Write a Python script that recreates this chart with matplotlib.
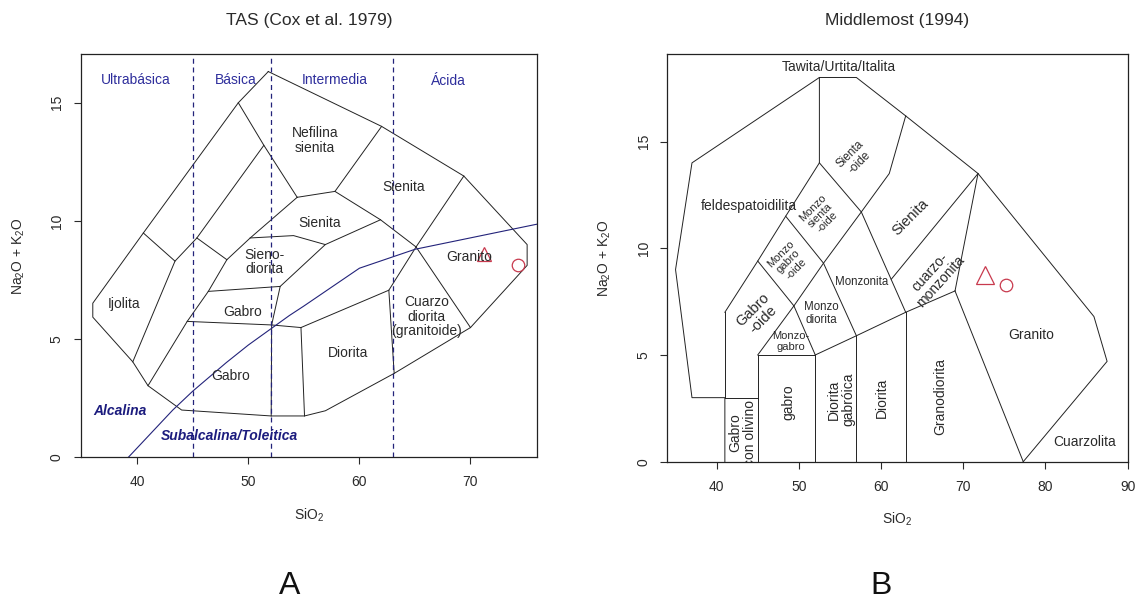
import matplotlib
matplotlib.use("Agg")
import matplotlib.pyplot as plt

plt.rcParams['font.family'] = ['Liberation Sans', 'DejaVu Sans']
plt.rcParams['mathtext.fontset'] = 'custom'
plt.rcParams['mathtext.rm'] = 'Liberation Sans'
plt.rcParams['mathtext.it'] = 'Liberation Sans:italic'

# ---------------- Panel A : TAS (Cox et al. 1979) ----------------
coxA_outer_x = [51.8, 49.1, 40.55, 36.0, 36.0, 39.6, 40.97, 44.0, 52.06, 55.06,
                56.94, 63.13, 70.0, 75.1, 75.1, 69.4, 62.0, 51.8]
coxA_outer_y = [16.32, 15.0, 9.49, 6.52, 5.93, 4.04, 3.03, 2.0, 1.75, 1.75,
                1.97, 3.55, 5.49, 8.12, 9.0, 11.9, 14.0, 16.32]
coxA_lines = [
    ([49.1, 51.4, 54.4], [15.0, 13.2, 11.0]),
    ([54.4, 57.8, 62.0], [11.0, 11.25, 14.0]),
    ([57.8, 61.9, 65.1, 69.4], [11.25, 10.05, 8.9, 11.9]),
    ([65.1, 70.0], [8.9, 5.49]),
    ([65.1, 62.65, 63.13], [8.9, 7.07, 3.55]),
    ([62.65, 54.74, 55.06], [7.07, 5.49, 1.75]),
    ([44.5, 52.1, 54.74], [5.75, 5.6, 5.49]),
    ([52.1, 52.06], [5.6, 1.75]),
    ([46.4, 52.87, 56.93], [7.02, 7.23, 9.0]),
    ([52.87, 52.1], [7.23, 5.6]),
    ([50.17, 54.07, 56.93, 61.9], [9.28, 9.38, 9.0, 10.05]),
    ([54.4, 50.17, 48.07, 46.4, 44.5, 40.97], [11.0, 9.28, 8.36, 7.02, 5.75, 3.03]),
    ([51.4, 45.37, 43.4], [13.2, 9.28, 8.3]),
    ([40.55, 43.4, 39.6], [9.49, 8.3, 4.04]),
    ([45.37, 48.07], [9.28, 8.36]),
]
# Irvine & Baragar alkaline / subalkaline divide
ib_x = [39.2, 40, 43.2, 45, 48, 50, 53.7, 55, 60, 65, 77.4]
ib_y = [0, 0.4, 2, 2.8, 4, 4.75, 6, 6.4, 8, 8.8, 10]
silica_div = [45, 52, 63]
zone_names = ['Ultrabásica', 'Básica', 'Intermedia', 'Ácida']
zone_x = [39.9, 48.9, 57.8, 68.0]
zone_y = [15.96, 15.96, 15.96, 15.9]
coxA_names = ['Nefilina\nsienita', 'Sienita', 'Sienita', 'Sieno-\ndiorita', 'Gabro',
              'Gabro', 'Ijolita', 'Diorita', 'Cuarzo\ndiorita\n(granitoide)', 'Granito']
coxA_lx = [56.0, 63.95, 56.45, 51.45, 49.5, 48.45, 38.8, 58.95, 66.05, 69.85]
coxA_ly = [13.41, 11.43, 9.9, 8.27, 6.15, 3.44, 6.48, 4.42, 5.94, 8.46]
series_names = ['Alcalina', 'Subalcalina/Toleitica']
series_x = [38.45, 48.3]
series_y = [1.96, 0.92]
A_tri = (71.2, 8.6)
A_circ = (74.25, 8.15)

# ---------------- Panel B : Middlemost (1994) ----------------
midB_outer_x = [41, 41, 37, 35, 37, 52.5, 57, 63, 71.8, 85.9, 87.5, 77.3]
midB_outer_y = [0, 3, 3, 9, 14, 18, 18, 16.2, 13.5, 6.8, 4.7, 0]
midB_lines = [
    ([41, 41], [3, 7]),
    ([41, 45], [3, 3]),
    ([45, 45], [0, 5]),
    ([45, 52], [5, 5]),
    ([52, 52], [0, 5]),
    ([52, 57, 63, 69], [5, 5.9, 7, 8]),
    ([57, 57], [0, 5.9]),
    ([63, 63], [0, 7]),
    ([69, 77.3], [8, 0]),
    ([69, 71.8], [8, 13.5]),
    ([41, 45, 48.4, 52.5, 52.5], [7, 9.4, 11.5, 14, 18]),
    ([45, 49.4, 53, 57.6, 61, 63], [5, 7.3, 9.3, 11.7, 13.5, 16.2]),
    ([49.4, 52], [7.3, 5]),
    ([45, 49.4], [9.4, 7.3]),
    ([48.4, 53, 57], [11.5, 9.3, 5.9]),
    ([52.5, 57.6, 63], [14, 11.7, 7]),
    ([61.25, 71.8], [8.55, 13.5]),
]
midB_names = ['Tawita/Urtita/Italita', 'feldespatoidilita', 'Sienta\n-oide',
              'Monzo\nsienta\n-oide', 'Sienita', 'Monzo\ngabro\n-oide',
              'cuarzo-\nmonzonita', 'Monzonita', 'Gabro\n-oide', 'Monzo\ndiorita',
              'Monzo-\ngabro', 'gabro', 'Diorita\ngabróica', 'Diorita', 'Granodiorita',
              'Gabro\ncon olivino', 'Granito', 'Cuarzolita']
midB_lx = [54.87, 43.89, 56.8, 52.58, 63.62, 48.73, 66.58, 57.66, 45.08, 52.79,
           48.99, 48.77, 55.1, 60.06, 67.2, 43.2, 78.3, 84.8]
midB_ly = [18.5, 11.96, 14.2, 11.56, 11.45, 9.38, 8.67, 8.44, 6.88, 6.95,
           5.63, 2.81, 2.92, 2.97, 3.05, 1.36, 5.94, 0.94]
midB_rot = [0, 0, 45, 45, 45, 45, 48, 0, 45, 0, 0, 90, 90, 90, 90, 90, 0, 0]
midB_size = [10, 10, 8.5, 8, 10.5, 8, 10, 8.3, 10.5, 8.3, 8, 10, 10, 10, 10, 10, 10, 10]
B_tri = (72.7, 8.75)
B_circ = (75.2, 8.3)

LINE = '#222222'
TXT = '#2a2a2a'
NAVY = '#23237a'
RED = '#c83a4e'

fig = plt.figure(figsize=(11.38, 6.0), dpi=100)
axA = fig.add_axes([0.0708, 0.2378, 0.4012, 0.6717])
axB = fig.add_axes([0.5864, 0.2305, 0.4045, 0.6795])


def style(ax, xt):
    ax.set_xticks(xt)
    ax.set_yticks([0, 5, 10, 15])
    ax.tick_params(direction='out', length=5, width=0.8, labelsize=10,
                   colors=TXT)
    ax.tick_params(axis='x', pad=8)
    ax.tick_params(axis='y', pad=7)
    for lab in ax.get_yticklabels():
        lab.set_rotation(90)
        lab.set_va('center')
    for s in ax.spines.values():
        s.set_linewidth(0.9)
        s.set_color('#222222')


# ---- Panel A ----
axA.set_xlim(34.9, 76.0)
axA.set_ylim(0, 17.05)
axA.plot(coxA_outer_x, coxA_outer_y, color=LINE, lw=0.7)
for xs, ys in coxA_lines:
    axA.plot(xs, ys, color=LINE, lw=0.7)
axA.plot(ib_x, ib_y, color=NAVY, lw=0.8)
for xv in silica_div:
    axA.axvline(xv, color=NAVY, lw=0.9, ls=(0, (4, 3)))
for n, x, y in zip(zone_names, zone_x, zone_y):
    axA.text(x, y, n, color='#2e2e9c', fontsize=10, ha='center', va='center')
for n, x, y in zip(coxA_names, coxA_lx, coxA_ly):
    axA.text(x, y, n, color=TXT, fontsize=10, ha='center', va='center',
             linespacing=1.05)
for n, x, y in zip(series_names, series_x, series_y):
    axA.text(x, y, n, color='#1c1c7e', fontsize=10, ha='center', va='center',
             fontweight='bold', fontstyle='italic')
axA.plot([A_tri[0]], [A_tri[1]], marker='^', ms=9.5, mfc='none', mec=RED, mew=0.9)
axA.plot([A_circ[0]], [A_circ[1]], marker='o', ms=9, mfc='none', mec=RED, mew=0.9)
style(axA, [40, 50, 60, 70])
axA.text(0.5, 1.085, 'TAS (Cox et al. 1979)', transform=axA.transAxes,
         ha='center', va='center', fontsize=12.5, color=TXT)
axA.set_xlabel('SiO$_2$', fontsize=10, color=TXT)
axA.xaxis.label.set_va('center')
axA.xaxis.set_label_coords(0.5, -0.143)
axA.set_ylabel('Na$_2$O + K$_2$O', fontsize=10, color=TXT)
axA.yaxis.label.set_va('center')
axA.yaxis.set_label_coords(-0.135, 0.5)

# ---- Panel B ----
axB.set_xlim(34.0, 90.0)
axB.set_ylim(0, 19.1)
axB.plot(midB_outer_x, midB_outer_y, color=LINE, lw=0.7)
for xs, ys in midB_lines:
    axB.plot(xs, ys, color=LINE, lw=0.7)
for n, x, y, r, s in zip(midB_names, midB_lx, midB_ly, midB_rot, midB_size):
    axB.text(x, y, n, color=TXT, fontsize=s, ha='center', va='center',
             rotation=r, rotation_mode='anchor', linespacing=1.05, clip_on=True)
axB.plot([B_tri[0]], [B_tri[1]], marker='^', ms=13, mfc='none', mec=RED, mew=0.9)
axB.plot([B_circ[0]], [B_circ[1]], marker='o', ms=9, mfc='none', mec=RED, mew=0.9)
style(axB, [40, 50, 60, 70, 80, 90])
axB.text(0.5, 1.083, 'Middlemost (1994)', transform=axB.transAxes,
         ha='center', va='center', fontsize=12.5, color=TXT)
axB.set_xlabel('SiO$_2$', fontsize=10, color=TXT)
axB.xaxis.label.set_va('center')
axB.xaxis.set_label_coords(0.5, -0.142)
axB.set_ylabel('Na$_2$O + K$_2$O', fontsize=10, color=TXT)
axB.yaxis.label.set_va('center')
axB.yaxis.set_label_coords(-0.135, 0.5)

fig.text(0.2546, 0.0233, 'A', fontsize=23, ha='center', va='center', color='#111111')
fig.text(0.7738, 0.0233, 'B', fontsize=23, ha='center', va='center', color='#111111')

fig.savefig('out.png', dpi=100)
